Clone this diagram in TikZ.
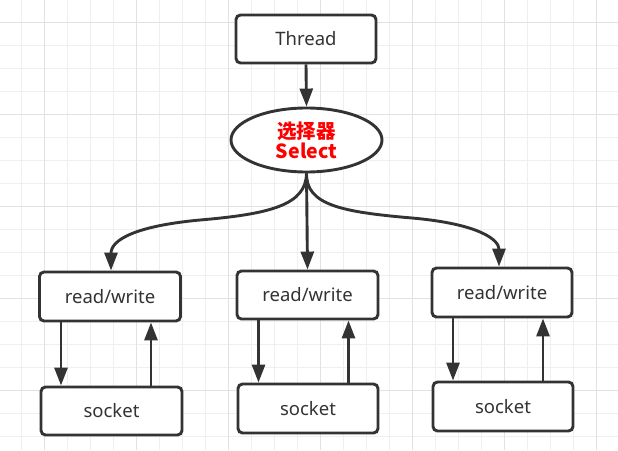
\documentclass[tikz,border=0pt]{standalone}
\usepackage{fontspec}
\setmainfont{Noto Sans}
\newfontfamily\cjk{Noto Sans CJK SC}
\usetikzlibrary{arrows.meta,shapes.geometric}
\definecolor{ink}{HTML}{333333}
\definecolor{gridminor}{HTML}{EFEFEF}
\definecolor{gridmajor}{HTML}{E2E2E2}
\definecolor{selred}{HTML}{FF0000}
\tikzset{
  box/.style={draw=ink, line width=2.9pt, rounded corners=4.5pt, fill=white,
    minimum width=140pt, minimum height=48pt, inner sep=0pt, text=ink,
    font=\fontsize{18.5}{22}\selectfont},
  selnode/.style={ellipse, draw=ink, line width=2.9pt, fill=white,
    minimum width=151pt, minimum height=64pt, inner sep=0pt, text=selred,
    align=center, font=\fontsize{19.5}{23}\selectfont\cjk\bfseries},
  conn/.style={draw=ink, line width=2.9pt, -{Triangle[length=18pt,width=13pt]}},
}
\begin{document}
\begin{tikzpicture}[x=1pt,y=-1pt]
\useasboundingbox (0,0) rectangle (618,450);
\fill[white] (0,0) rectangle (618,450);
% grid
\foreach \i in {0,...,26} {
  \draw[gridminor, line width=1pt] ({21.5+23*\i},0) -- ({21.5+23*\i},450);
}
\foreach \i in {0,...,19} {
  \draw[gridminor, line width=1pt] (0,{-0.5+23*\i}) -- (618,{-0.5+23*\i});
}
\foreach \i in {0,...,6} {
  \draw[gridmajor, line width=1pt] ({44+92*\i},0) -- ({44+92*\i},450);
}
\foreach \i in {0,...,4} {
  \draw[gridmajor, line width=1pt] (0,{22.5+92*\i}) -- (618,{22.5+92*\i});
}
% nodes
\node[box] (thread) at (306,39) {Thread};
\node[selnode] (sel) at (306.5,140) {选择器\\[-3pt]Select};
\node[box, minimum width=141pt, minimum height=49pt] (rw1) at (110,296.5) {read/write};
\node[box, minimum width=141pt] (sk1) at (111.5,411) {socket};
\node[box, minimum width=141pt] (rw2) at (307.5,295) {read/write};
\node[box, minimum height=49pt] (sk2) at (308,408.5) {socket};
\node[box, minimum height=49pt] (rw3) at (502,292.5) {read/write};
\node[box, minimum height=49pt] (sk3) at (503,406.5) {socket};
% connectors
\draw[conn] (thread.south) -- (sel.north);
\draw[conn] (sel.south) .. controls (306,205) and (270,214) .. (200,220)
  .. controls (135,226) and (111,240) .. ([xshift=1pt]rw1.north);
\draw[conn] (sel.south) -- (rw2.north);
\draw[conn] (sel.south) .. controls (306,205) and (342,212) .. (412,218)
  .. controls (480,224) and (499,240) .. ([xshift=-3pt]rw3.north);
\foreach \a/\b in {rw1/sk1, rw2/sk2, rw3/sk3} {
  \draw[conn] ([xshift=-49pt]\a.south) -- ([xshift=-49pt]\a.south |- \b.north);
  \draw[conn] ([xshift=41pt]\a.south |- \b.north) -- ([xshift=41pt]\a.south);
}
\end{tikzpicture}
\end{document}
